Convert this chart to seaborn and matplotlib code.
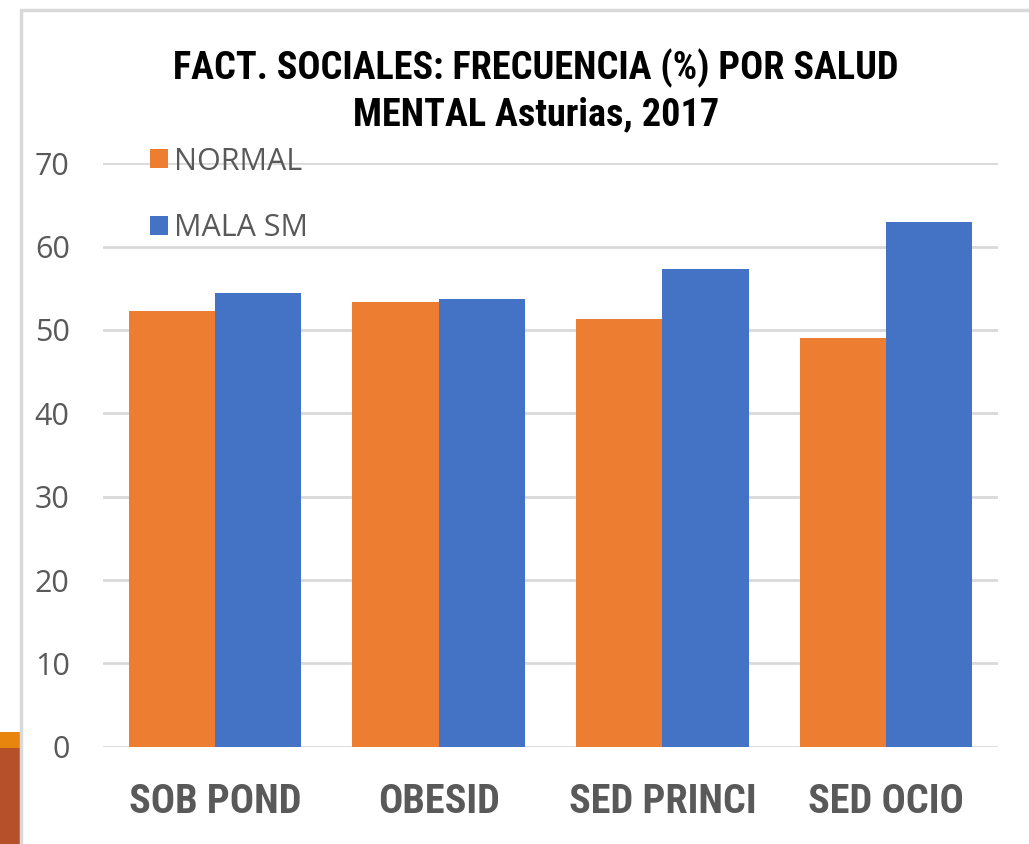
import pandas as pd
import seaborn as sns
from matplotlib import pyplot as plt
from matplotlib.patches import Rectangle
from matplotlib.lines import Line2D

# values
categorias = ["SOB POND", "OBESID", "SED PRINCI", "SED OCIO"]
normal = [52.3, 53.4, 51.3, 49.0]
mala_sm = [54.4, 53.7, 57.3, 63.0]
series = ["NORMAL", "MALA SM"]
colores = ["#ED7D31", "#4472C4"]

df = pd.DataFrame({
    "cat": categorias * 2,
    "serie": [series[0]] * 4 + [series[1]] * 4,
    "valor": normal + mala_sm,
})

sns.set_style("white")
plt.rcParams['font.family'] = ['Open Sans', 'DejaVu Sans']
negrita = ['Roboto Condensed', 'Liberation Sans Narrow', 'Roboto', 'DejaVu Sans']

fig = plt.figure(figsize=(10.29, 8.44), dpi=100)
ax = fig.add_axes([0.1001, 0.1153, 0.8698, 0.6912])

sns.barplot(data=df, x="cat", y="valor", hue="serie", palette=colores,
            saturation=1, width=0.77, linewidth=0, ax=ax, legend=True)

ax.set_ylim(0, 70)
ax.set_yticks(range(0, 71, 10))
ax.set_xlim(-0.5, 3.5)
ax.grid(axis="y", color="#D9D9D9", linewidth=2)
ax.set_axisbelow(True)
for s in ax.spines.values():
    s.set_visible(False)
ax.set_xlabel("")
ax.set_ylabel("")
ax.tick_params(axis="y", length=0, pad=24, labelsize=22, labelcolor="#595959")
ax.tick_params(axis="x", length=0, pad=26, labelsize=29, labelcolor="#595959")
for t in ax.get_xticklabels():
    t.set_fontfamily(negrita)
    t.set_fontweight("bold")

ax.legend(loc="upper left", bbox_to_anchor=(0.035, 1.055), frameon=False,
          fontsize=22, labelcolor="#595959", handlelength=0.6, handleheight=0.6,
          handletextpad=0.2, labelspacing=1.21, borderpad=0)

fig.text(0.521, 0.892, "FACT. SOCIALES: FRECUENCIA (%) POR SALUD\nMENTAL Asturias, 2017",
         ha="center", va="center", fontsize=27.5, fontweight="bold", color="black",
         family=negrita, linespacing=1.3)

# slide frame and decoration on the left
fig.add_artist(Line2D([0.0204, 0.0204], [0, 0.988], transform=fig.transFigure,
                      color="#D9D9D9", linewidth=2.5))
fig.add_artist(Line2D([0.0204, 1], [0.988, 0.988], transform=fig.transFigure,
                      color="#D9D9D9", linewidth=2.5))
fig.add_artist(Rectangle((0, 96 / 844), 0.019, 16 / 844, transform=fig.transFigure,
                         color="#E8850E", linewidth=0))
fig.add_artist(Rectangle((0, 0), 0.019, 96 / 844, transform=fig.transFigure,
                         color="#B5502A", linewidth=0))

fig.savefig("out.png", dpi=100)
